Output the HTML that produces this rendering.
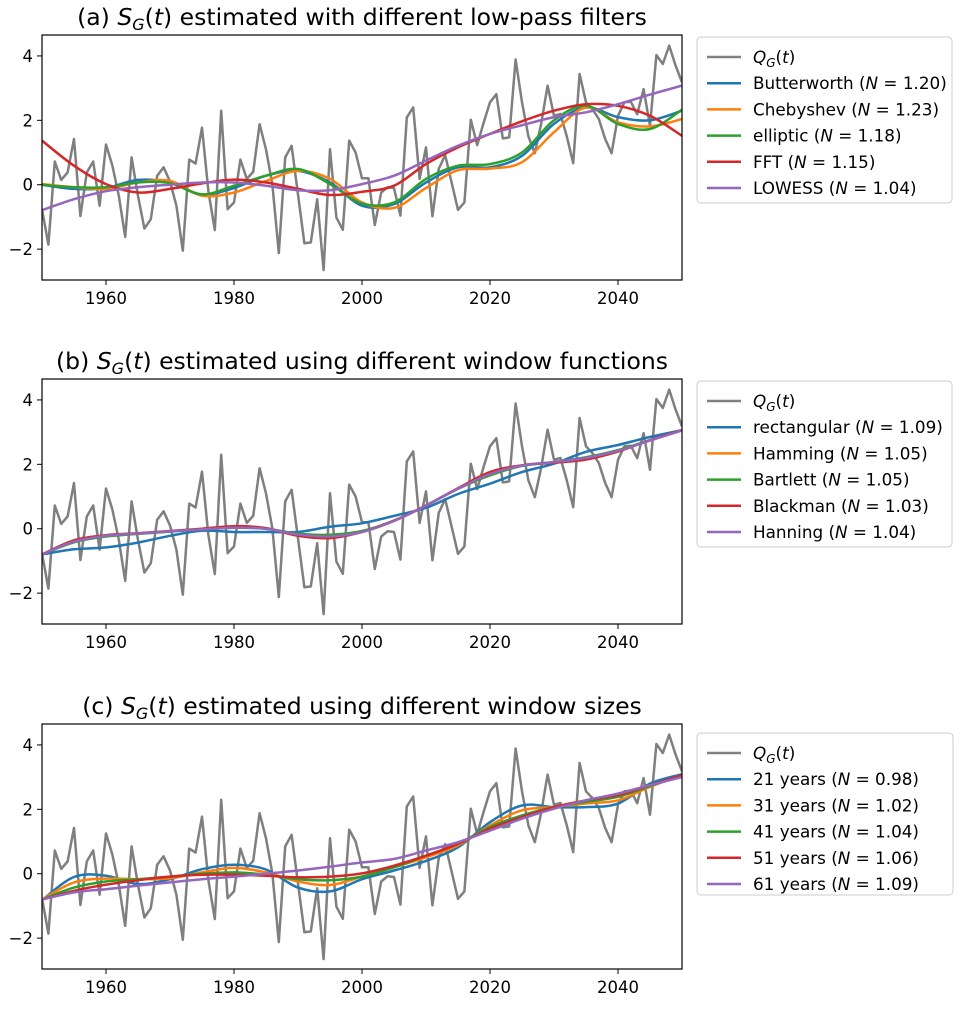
<!DOCTYPE html>
<html><head><meta charset="utf-8">
<style>
body{margin:0;background:#fff;font-family:"Liberation Sans","DejaVu Sans",sans-serif;}
svg text{font-family:"DejaVu Sans","Liberation Sans",sans-serif;}
</style></head>
<body>
<svg id="chart" width="961" height="1004" viewBox="0 0 961 1004" xmlns="http://www.w3.org/2000/svg"></svg>
<script>
const years=[];for(let y=1950;y<=2050;y++)years.push(y);
const qg=[-0.76,-1.86,0.72,0.15,0.38,1.42,-0.97,0.38,0.72,-0.65,1.25,0.59,-0.34,-1.62,0.85,-0.35,-1.36,-1.07,0.28,0.54,0.1,-0.65,-2.05,0.78,0.66,1.77,-0.2,-1.41,2.3,-0.76,-0.55,0.78,0.18,0.4,1.88,1.1,0.0,-2.12,0.85,1.21,-0.3,-1.82,-1.79,-0.45,-2.65,1.1,-1.02,-1.4,1.37,1.0,0.2,0.2,-1.25,-0.24,-0.08,-0.1,-0.96,2.09,2.4,0.18,1.16,-0.98,0.5,0.92,0.07,-0.78,-0.55,2.02,1.23,1.92,2.56,2.81,1.44,1.47,3.89,2.56,1.5,0.98,1.9,3.08,2.14,2.2,1.5,0.67,3.44,2.56,2.35,2.04,1.42,0.98,2.14,2.56,2.58,2.19,2.97,1.83,4.03,3.75,4.32,3.7,3.18];
const sy=[];for(let y=1950;y<=2050;y+=5)sy.push(y);
// panel a
const aButter=[0,-0.13,-0.1,0.15,0.07,-0.3,-0.1,0.28,0.43,0.07,-0.65,-0.6,0.07,0.54,0.54,0.9,1.89,2.4,2.1,2.0,2.3];
const aCheby=[0.02,-0.08,-0.13,0.07,0.12,-0.34,-0.24,0.12,0.43,0.18,-0.55,-0.72,-0.1,0.45,0.5,0.7,1.63,2.4,1.94,1.81,2.04];
const aEllip=[0,-0.08,-0.08,0.07,0.05,-0.3,-0.03,0.28,0.49,0.02,-0.58,-0.55,0.18,0.59,0.64,1.0,2.0,2.45,1.89,1.73,2.33];
const aFFT=[1.37,0.59,0.02,-0.24,-0.13,0.04,0.16,0.07,-0.13,-0.32,-0.22,-0.03,0.64,1.16,1.58,1.97,2.3,2.5,2.45,2.14,1.52];
const aLowess=[-0.79,-0.45,-0.2,-0.08,0,0.07,0.07,-0.03,-0.17,-0.17,0.02,0.28,0.75,1.21,1.58,1.85,2.1,2.25,2.5,2.8,3.08];
// panel b
const bRect=[-0.8,-0.64,-0.58,-0.43,-0.22,-0.06,-0.1,-0.1,-0.1,0.06,0.17,0.4,0.65,1.08,1.4,1.76,2.02,2.39,2.6,2.85,3.06];
const bHamm=[-0.8,-0.4,-0.22,-0.15,-0.08,-0.02,0.04,0.0,-0.17,-0.22,-0.08,0.25,0.72,1.24,1.68,1.97,2.07,2.2,2.44,2.75,3.06];
const bBart=[-0.8,-0.42,-0.24,-0.16,-0.09,-0.02,0.03,0.0,-0.15,-0.19,-0.07,0.25,0.72,1.24,1.66,1.95,2.07,2.22,2.44,2.75,3.06];
const bBlack=[-0.8,-0.36,-0.2,-0.14,-0.07,0.0,0.08,0.02,-0.22,-0.29,-0.1,0.25,0.72,1.26,1.76,1.97,2.05,2.15,2.4,2.75,3.06];
const bHann=[-0.8,-0.4,-0.22,-0.15,-0.08,-0.02,0.03,0.0,-0.18,-0.24,-0.1,0.24,0.72,1.24,1.7,1.96,2.07,2.2,2.42,2.74,3.05];
// panel c
const c21=[-0.82,-0.1,-0.06,-0.32,-0.17,0.14,0.28,0.13,-0.43,-0.55,-0.17,0.1,0.4,0.82,1.6,2.12,2.07,2.07,2.18,2.8,3.09];
const c31=[-0.8,-0.27,-0.15,-0.17,-0.14,0.04,0.18,0.04,-0.24,-0.35,-0.09,0.2,0.51,0.88,1.5,1.97,2.07,2.18,2.28,2.7,3.06];
const c41=[-0.8,-0.43,-0.24,-0.17,-0.09,0,0.04,-0.03,-0.17,-0.2,-0.09,0.2,0.56,0.93,1.45,1.81,2.07,2.23,2.39,2.72,3.06];
const c51=[-0.8,-0.53,-0.34,-0.2,-0.09,-0.03,-0.03,-0.06,-0.11,-0.09,0.01,0.25,0.56,0.93,1.4,1.76,2.07,2.28,2.44,2.75,3.06];
const c61=[-0.8,-0.58,-0.48,-0.37,-0.27,-0.17,-0.09,0,0.1,0.22,0.35,0.46,0.72,0.98,1.34,1.71,2.02,2.28,2.49,2.75,3.0];
const xTicks=[1960,1980,2000,2020,2040];
const yTicks=[-2,0,2,4];

const NS='http://www.w3.org/2000/svg';
const svg=document.getElementById('chart');
function el(tag,attrs,parent){const e=document.createElementNS(NS,tag);for(const k in attrs)e.setAttribute(k,attrs[k]);(parent||svg).appendChild(e);return e;}
const X0=42,X1=682;
function xs(y){return X0+(y-1950)*(X1-X0)/100;}
const panels=[
 {top:35,pre:'(a) ',post:' estimated with different low-pass filters',key:'a',
  series:[[aButter,'#1f77b4','Butterworth (','1.20)'],[aCheby,'#ff7f0e','Chebyshev (','1.23)'],[aEllip,'#2ca02c','elliptic (','1.18)'],[aFFT,'#d62728','FFT (','1.15)'],[aLowess,'#9467bd','LOWESS (','1.04)']],legH:166,legW:255},
 {top:379,pre:'(b) ',post:' estimated using different window functions',key:'b',
  series:[[bRect,'#1f77b4','rectangular (','1.09)'],[bHamm,'#ff7f0e','Hamming (','1.05)'],[bBart,'#2ca02c','Bartlett (','1.05)'],[bBlack,'#d62728','Blackman (','1.03)'],[bHann,'#9467bd','Hanning (','1.04)']],legH:166,legW:255},
 {top:724,pre:'(c) ',post:' estimated using different window sizes',key:'c',
  series:[[c21,'#1f77b4','21 years (','0.98)'],[c31,'#ff7f0e','31 years (','1.02)'],[c41,'#2ca02c','41 years (','1.04)'],[c51,'#d62728','51 years (','1.06)'],[c61,'#9467bd','61 years (','1.09)']],legH:162,legW:256}
];
function smoothPath(px){
 let d='M'+px[0][0].toFixed(1)+','+px[0][1].toFixed(1);
 for(let i=0;i<px.length-1;i++){
  const p0=px[Math.max(0,i-1)],p1=px[i],p2=px[i+1],p3=px[Math.min(px.length-1,i+2)];
  const c1=[p1[0]+(p2[0]-p0[0])/6,p1[1]+(p2[1]-p0[1])/6],c2=[p2[0]-(p3[0]-p1[0])/6,p2[1]-(p3[1]-p1[1])/6];
  d+='C'+c1[0].toFixed(1)+','+c1[1].toFixed(1)+' '+c2[0].toFixed(1)+','+c2[1].toFixed(1)+' '+p2[0].toFixed(1)+','+p2[1].toFixed(1);
 }
 return d;
}
panels.forEach(p=>{
 const top=p.top,bot=top+245;
 const ys=v=>top+(4.65-v)*32.2;
 const g=el('g',{});
 
 
 const t=el('text',{x:362,y:top-10,'text-anchor':'middle','font-size':23.5,fill:'#000'},g);
 
 
 t.innerHTML=p.pre+'<tspan font-style="italic">S</tspan><tspan font-style="italic" font-size="16" dy="5">G</tspan><tspan dy="-5">(</tspan><tspan font-style="italic">t</tspan>)'+p.post;
 const clip=el('clipPath',{id:'clip'+p.key},g);el('rect',{x:X0,y:top,width:X1-X0,height:245},clip);
 const plot=el('g',{'clip-path':'url(#clip'+p.key+')'},g);
 const gp=el('polyline',{points:years.map((y,i)=>xs(y).toFixed(1)+','+ys(qg[i]).toFixed(1)).join(' '),fill:'none',stroke:'#7f7f7f','stroke-width':2.5,'stroke-linejoin':'round'},plot);
 
 
 p.series.forEach((s,si)=>{
  const path=el('path',{d:smoothPath(sy.map((y,i)=>[xs(y),ys(s[0][i])])),fill:'none',stroke:s[1],'stroke-width':2.5},plot);
  
  
 });
 const frame=el('rect',{x:X0,y:top,width:X1-X0,height:245,fill:'none',stroke:'#000','stroke-width':1.2},g);
 
 
 xTicks.forEach(v=>{
  el('line',{x1:xs(v),x2:xs(v),y1:bot,y2:bot+5,stroke:'#000'},g);
  const tx=el('text',{x:xs(v),y:bot+24,'text-anchor':'middle','font-size':16.5},g);
  
  
  tx.textContent=v;
 });
 yTicks.forEach(v=>{
  el('line',{x1:X0-5,x2:X0,y1:ys(v),y2:ys(v),stroke:'#000'},g);
  const ty=el('text',{x:X0-9,y:ys(v)+6,'text-anchor':'end','font-size':16.5},g);
  
  
  ty.textContent=v<0?'\u2212'+(-v):v;
 });
 const lg=el('g',{},g);
 
 
 const ly=top+(p.key==='c'?9:2);
 el('rect',{x:697,y:ly,width:p.legW,height:p.legH,rx:4,fill:'#fff',stroke:'#ccc'},lg);
 const rows=[['#7f7f7f',null]].concat(p.series.map(s=>[s[1],s]));
 rows.forEach((r,i)=>{
  const ry=ly+20+i*26.2;
  el('line',{x1:707,x2:741,y1:ry,y2:ry,stroke:r[0],'stroke-width':2.5},lg);
  const tt=el('text',{x:753,y:ry+6,'font-size':16.8},lg);
  
  
  if(!r[1]) tt.innerHTML='<tspan font-style="italic">Q</tspan><tspan font-style="italic" font-size="12" dy="4">G</tspan><tspan dy="-4">(</tspan><tspan font-style="italic">t</tspan>)';
  else tt.innerHTML=r[1][2]+'<tspan font-style="italic">N</tspan> = '+r[1][3];
 });
});
</script>
</body></html>
